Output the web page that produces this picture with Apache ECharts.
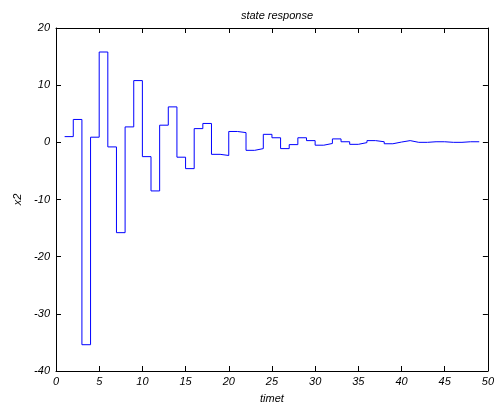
<!DOCTYPE html>
<html><head><meta charset="utf-8">
<script src="https://cdn.jsdelivr.net/npm/echarts@6/dist/echarts.min.js"></script>
<style>html,body{margin:0;padding:0;background:#fff}#c{width:497px;height:410px}</style>
</head><body><div id="c"></div>
<script>
var timet = [1,2,3,4,5,6,7,8,9,10,11,12,13,14,15,16,17,18,19,20,21,22,23,24,25,26,27,28,29,30,31,32,33,34,35,36,37,38,39,40,41,42,43,44,45,46,47,48,49];
var x2 = [1.0,4.0,-35.4,0.9,15.8,-0.8,-15.8,2.7,10.8,-2.5,-8.5,3.0,6.2,-2.6,-4.6,2.4,3.3,-2.1,-2.3,1.9,1.7,-1.4,-1.1,1.4,0.8,-1.1,-0.4,0.8,0.3,-0.5,-0.2,0.6,0.1,-0.35,-0.05,0.3,0.1,-0.25,0.05,0.3,0.0,0.0,0.1,0.1,0.0,0.0,0.1,0.1,0.1];
var xTicks = [0,5,10,15,20,25,30,35,40,45,50];
var yTicks = [-40,-30,-20,-10,0,10,20];
var titleText = 'state response', xName = 'timet', yName = 'x2';

var font = {fontFamily:'Liberation Sans, Arial, sans-serif', fontStyle:'italic', fontSize:11, color:'#000'};
var pts = timet.map(function(t,i){return [t, x2[i]];});
var axLine = {show:true, onZero:false, lineStyle:{color:'#000', width:1}};
var tick = {show:true, inside:true, length:5, lineStyle:{color:'#000'}};
var chart = echarts.init(document.getElementById('c'), null, {renderer:'canvas'});
chart.setOption({
  backgroundColor:'#fff',
  animation:false,
  title:{text:titleText, left:272, top:5, textAlign:'center', textStyle:Object.assign({}, font, {fontWeight:'normal'})},
  grid:{left:56, right:8, top:28, bottom:39, containLabel:false},
  xAxis:[
    {type:'value', min:xTicks[0], max:xTicks[xTicks.length-1], interval:5, position:'bottom',
     name:xName, nameLocation:'middle', nameGap:22, nameTextStyle:font,
     axisLine:axLine, axisTick:tick, splitLine:{show:false},
     axisLabel:Object.assign({margin:5}, font)},
    {type:'value', min:0, max:50, interval:5, position:'top',
     axisLine:axLine, axisTick:tick, splitLine:{show:false}, axisLabel:{show:false}}
  ],
  yAxis:[
    {type:'value', min:yTicks[0], max:yTicks[yTicks.length-1], interval:10, position:'left',
     name:yName, nameLocation:'middle', nameGap:31, nameRotate:90, nameTextStyle:font,
     axisLine:axLine, axisTick:tick, splitLine:{show:false},
     axisLabel:Object.assign({margin:6}, font)},
    {type:'value', min:-40, max:20, interval:10, position:'right',
     axisLine:axLine, axisTick:tick, splitLine:{show:false}, axisLabel:{show:false}}
  ],
  series:[{type:'line', step:'end', data:pts, showSymbol:false, symbol:'none',
    lineStyle:{color:'#0000ff', width:1}, xAxisIndex:0, yAxisIndex:0}]
});
</script></body></html>
